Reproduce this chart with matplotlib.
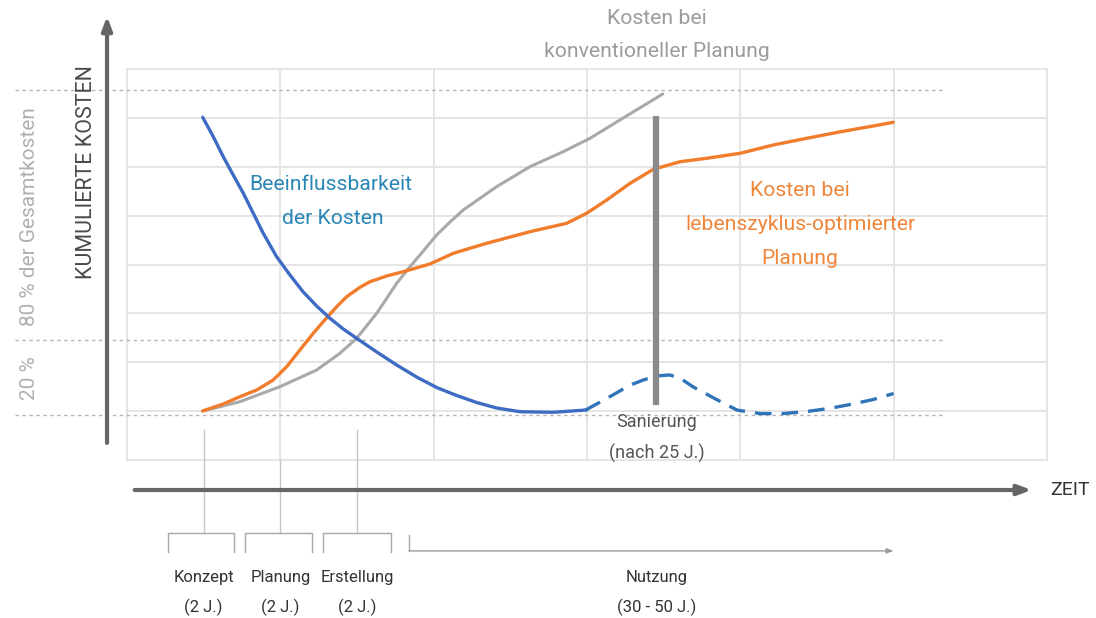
import matplotlib
matplotlib.use("Agg")
import matplotlib.pyplot as plt

plt.rcParams["font.family"] = ["Roboto", "DejaVu Sans"]

# grid units: x = 6 columns, y = 8 rows
blue_x = [0.494, 0.563, 0.628, 0.693, 0.759, 0.824, 0.889, 0.976, 1.063, 1.150, 1.237, 1.324,
          1.411, 1.498, 1.629, 1.759, 1.889, 2.020, 2.150, 2.281, 2.411, 2.563, 2.780, 2.998]
blue_y = [7.012, 6.615, 6.206, 5.831, 5.457, 5.048, 4.638, 4.160, 3.785, 3.437, 3.151, 2.899,
          2.680, 2.490, 2.210, 1.944, 1.698, 1.483, 1.320, 1.176, 1.064, 0.988, 0.976, 1.023]

dash_x = [2.99, 3.13, 3.28, 3.37, 3.46, 3.54, 3.61, 3.69, 3.85, 3.98, 4.13, 4.28, 4.43, 4.59,
          4.74, 4.87, 5.00]
dash_y = [1.02, 1.26, 1.53, 1.64, 1.72, 1.74, 1.67, 1.50, 1.23, 1.02, 0.95, 0.95, 0.99, 1.06,
          1.15, 1.24, 1.36]

orange_x = [0.494, 0.628, 0.737, 0.846, 0.954, 1.042, 1.128, 1.215, 1.280, 1.368, 1.433, 1.520,
            1.585, 1.694, 1.802, 1.976, 2.128, 2.346, 2.628, 2.868, 2.998, 3.129, 3.281, 3.433,
            3.607, 3.781, 3.998, 4.215, 4.433, 4.655, 4.867, 4.998]
orange_y = [1.003, 1.146, 1.295, 1.432, 1.637, 1.909, 2.251, 2.592, 2.830, 3.137, 3.341, 3.534,
            3.648, 3.765, 3.853, 4.010, 4.229, 4.434, 4.671, 4.843, 5.048, 5.320, 5.661, 5.948,
            6.103, 6.173, 6.275, 6.445, 6.582, 6.717, 6.834, 6.910]

gray_x = [0.494, 0.613, 0.737, 0.998, 1.237, 1.389, 1.498, 1.629, 1.759, 1.846, 1.911, 2.020,
          2.107, 2.193, 2.411, 2.628, 2.845, 3.020, 3.215, 3.494]
gray_y = [1.003, 1.095, 1.193, 1.500, 1.841, 2.183, 2.490, 3.002, 3.615, 3.955, 4.194, 4.604,
          4.870, 5.115, 5.592, 6.001, 6.308, 6.582, 6.957, 7.488]

sanierung_x = 3.45
sanierung_y = (1.13, 7.03)

# dotted share levels (bottom, 20 %, 80 %)
share_levels = [0.93, 2.45, 7.57]

# phases along the time axis
phases = ["Konzept", "Planung", "Erstellung"]
phase_years = ["(2 J.)", "(2 J.)", "(2 J.)"]
phase_left = [0.27, 0.77, 1.28]
phase_right = [0.70, 1.21, 1.72]
phase_centers = [0.5, 1.0, 1.5]

fig = plt.figure(figsize=(10.96, 6.18), dpi=100)
ax = fig.add_axes([0, 0, 1, 1])
ax.set_xlim(-0.828, 6.320)
ax.set_ylim(-3.233, 9.412)
ax.axis("off")

grid_c = "#e3e3e3"
for gx in range(7):
    ax.plot([gx, gx], [0, 8], color=grid_c, lw=1.3, zorder=1)
for gy in range(9):
    ax.plot([0, 6], [gy, gy], color=grid_c, lw=1.3, zorder=1)

for lvl in share_levels:
    ax.plot([-0.73, 5.33], [lvl, lvl], color="#b5b5b5", lw=1.0,
            linestyle=(0, (2.5, 2.5)), zorder=2)

# axes arrows
ax.annotate("", xy=(-0.13, 9.08), xytext=(-0.13, 0.35),
            arrowprops=dict(arrowstyle="-|>,head_length=0.8,head_width=0.3",
                            lw=3, color="#666666", shrinkA=0, shrinkB=0))
ax.annotate("", xy=(5.90, -0.614), xytext=(0.05, -0.614),
            arrowprops=dict(arrowstyle="-|>,head_length=0.8,head_width=0.3",
                            lw=3, color="#666666", shrinkA=0, shrinkB=0))

# curves
ax.plot(gray_x, gray_y, color="#a9a9a9", lw=2.2, zorder=3,
        solid_capstyle="round", solid_joinstyle="round")
ax.plot(orange_x, orange_y, color="#f07c2c", lw=2.4, zorder=4,
        solid_capstyle="round", solid_joinstyle="round")
ax.plot(blue_x, blue_y, color="#3e6cc4", lw=2.4, zorder=5,
        solid_capstyle="round", solid_joinstyle="round")
ax.plot(dash_x, dash_y, color="#2f74b8", lw=2.4, zorder=5, linestyle=(0, (5, 3)))
ax.plot([sanierung_x, sanierung_x], sanierung_y, color="#8a8a8a", lw=4.5,
        solid_capstyle="butt", zorder=6)

# connectors and brackets under the time axis
conn_c = "#c6c6c6"
ax.plot([0.5, 0.5], [0.61, -1.49], color=conn_c, lw=1.0, zorder=1)
ax.plot([1.0, 1.0], [0, -1.49], color=conn_c, lw=1.0, zorder=1)
ax.plot([1.5, 1.5], [0.61, -1.49], color=conn_c, lw=1.0, zorder=1)
for l, r in zip(phase_left, phase_right):
    ax.plot([l, l, r, r], [-1.88, -1.49, -1.49, -1.88], color="#a8a8a8", lw=1.0)
ax.plot([1.84, 1.84], [-1.53, -1.86], color="#a8a8a8", lw=1.0)
ax.annotate("", xy=(5.0, -1.86), xytext=(1.84, -1.86),
            arrowprops=dict(arrowstyle="-|>,head_length=0.4,head_width=0.15",
                            lw=1.0, color="#9a9a9a", shrinkA=0, shrinkB=0))

# texts
big = 15.2
ax.text(3.457, 9.04, "Kosten bei", ha="center", va="center", fontsize=big, color="#9b9b9b")
ax.text(3.457, 8.35, "konventioneller Planung", ha="center", va="center",
        fontsize=big, color="#9b9b9b")
ax.text(1.33, 5.63, "Beeinflussbarkeit", ha="center", va="center", fontsize=big, color="#2a86b6")
ax.text(1.34, 4.95, "der Kosten", ha="center", va="center", fontsize=big, color="#2a86b6")
ax.text(4.39, 5.52, "Kosten bei", ha="center", va="center", fontsize=big, color="#f0863a")
ax.text(4.39, 4.81, "lebenszyklus-optimierter", ha="center", va="center",
        fontsize=big, color="#f0863a")
ax.text(4.39, 4.13, "Planung", ha="center", va="center", fontsize=big, color="#f0863a")

ax.text(-0.264, 5.89, "KUMULIERTE KOSTEN", ha="center", va="center", rotation=90,
        fontsize=15.5, color="#4a4a4a")
ax.text(-0.633, 4.97, "80 % der Gesamtkosten", ha="center", va="center", rotation=90,
        fontsize=15, color="#b0b0b0")
ax.text(-0.633, 1.68, "20 %", ha="center", va="center", rotation=90,
        fontsize=15, color="#b0b0b0")

ax.text(3.457, 0.78, "Sanierung", ha="center", va="center", fontsize=13, color="#555555")
ax.text(3.457, 0.14, "(nach 25 J.)", ha="center", va="center", fontsize=13, color="#555555")
ax.text(6.02, -0.614, "ZEIT", ha="left", va="center", fontsize=14, color="#333333")

for name, yrs, cx in zip(phases, phase_years, phase_centers):
    ax.text(cx, -2.41, name, ha="center", va="center", fontsize=12, color="#333333")
    ax.text(cx, -3.01, yrs, ha="center", va="center", fontsize=12, color="#333333")
ax.text(3.457, -2.41, "Nutzung", ha="center", va="center", fontsize=12, color="#333333")
ax.text(3.457, -3.01, "(30 - 50 J.)", ha="center", va="center", fontsize=12, color="#333333")

fig.savefig("out.png", dpi=100)
